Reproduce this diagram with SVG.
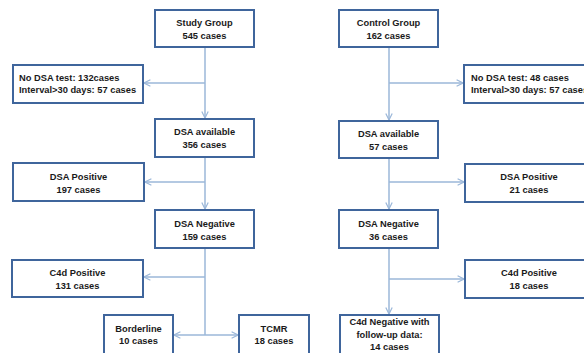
<svg xmlns="http://www.w3.org/2000/svg" width="584" height="353" viewBox="0 0 584 353">
<style>
.box{fill:#ffffff;stroke:#3f659c;stroke-width:2}
.t{font-family:"Liberation Sans",Arial,sans-serif;font-weight:bold;font-size:9.3px;fill:#1a1a1a;text-anchor:middle}
.l{text-anchor:start}
.c{fill:none;stroke:#9bb7d9;stroke-width:1.5}
</style>
<defs>
<marker id="ah" viewBox="0 0 10 10" refX="9" refY="5" markerWidth="8" markerHeight="8" markerUnits="userSpaceOnUse" orient="auto">
<path d="M1,1 L9,5 L1,9" fill="none" stroke="#9bb7d9" stroke-width="1.5"/>
</marker>
</defs>
<rect width="584" height="353" fill="#ffffff"/>
<g id="connectors">
<path class="c" d="M205,47 V118" marker-end="url(#ah)"/>
<path class="c" d="M205,83 H144" marker-end="url(#ah)"/>
<path class="c" d="M205,157 V209" marker-end="url(#ah)"/>
<path class="c" d="M205,182 H145" marker-end="url(#ah)"/>
<path class="c" d="M205,248 V335"/>
<path class="c" d="M205,277 H144" marker-end="url(#ah)"/>
<path class="c" d="M205,335 H174" marker-end="url(#ah)"/>
<path class="c" d="M205,335 H238" marker-end="url(#ah)"/>
<path class="c" d="M389,47 V120" marker-end="url(#ah)"/>
<path class="c" d="M389,83 H463" marker-end="url(#ah)"/>
<path class="c" d="M389,158 V209" marker-end="url(#ah)"/>
<path class="c" d="M389,182 H464" marker-end="url(#ah)"/>
<path class="c" d="M389,248 V314" marker-end="url(#ah)"/>
<path class="c" d="M389,279 H464" marker-end="url(#ah)"/>
</g>
<g id="study-group"><rect class="box" x="155" y="10" width="99" height="37"/><text class="t" x="204.5" y="26">Study Group</text><text class="t" x="204.5" y="38.5">545 cases</text></g>
<g id="no-dsa-left"><rect class="box" x="13" y="65" width="130" height="38"/><text class="t l" x="19" y="80.5">No DSA test: 132cases</text><text class="t l" x="19" y="93">Interval&gt;30 days: 57 cases</text></g>
<g id="dsa-available-left"><rect class="box" x="155" y="119" width="99" height="38"/><text class="t" x="204.5" y="135">DSA available</text><text class="t" x="204.5" y="147.5">356 cases</text></g>
<g id="dsa-positive-left"><rect class="box" x="13" y="163" width="131" height="38"/><text class="t" x="78.5" y="179.5">DSA Positive</text><text class="t" x="78.5" y="192.5">197 cases</text></g>
<g id="dsa-negative-left"><rect class="box" x="155" y="210" width="99" height="38"/><text class="t" x="204.5" y="226.5">DSA Negative</text><text class="t" x="204.5" y="239.5">159 cases</text></g>
<g id="c4d-positive-left"><rect class="box" x="12" y="260" width="131" height="37"/><text class="t" x="77.5" y="275.5">C4d Positive</text><text class="t" x="77.5" y="288.5">131 cases</text></g>
<g id="borderline"><rect class="box" x="104" y="315" width="69" height="42"/><text class="t" x="138.5" y="331.5">Borderline</text><text class="t" x="138.5" y="344">10 cases</text></g>
<g id="tcmr"><rect class="box" x="239" y="315" width="70" height="42"/><text class="t" x="274" y="331.5">TCMR</text><text class="t" x="274" y="344">18 cases</text></g>
<g id="control-group"><rect class="box" x="339" y="10" width="99" height="37"/><text class="t" x="388.5" y="26">Control Group</text><text class="t" x="388.5" y="38.5">162 cases</text></g>
<g id="no-dsa-right"><rect class="box" x="464" y="65" width="131" height="38"/><text class="t l" x="471" y="80.5">No DSA test: 48 cases</text><text class="t l" x="471" y="93">Interval&gt;30 days: 57 cases</text></g>
<g id="dsa-available-right"><rect class="box" x="339" y="121" width="99" height="37"/><text class="t" x="388.5" y="137">DSA available</text><text class="t" x="388.5" y="150">57 cases</text></g>
<g id="dsa-positive-right"><rect class="box" x="465" y="164" width="129" height="38"/><text class="t" x="529" y="179.5">DSA Positive</text><text class="t" x="529" y="192.5">21 cases</text></g>
<g id="dsa-negative-right"><rect class="box" x="339" y="210" width="99" height="38"/><text class="t" x="388.5" y="226.5">DSA Negative</text><text class="t" x="388.5" y="239.5">36 cases</text></g>
<g id="c4d-positive-right"><rect class="box" x="465" y="260" width="129" height="38"/><text class="t" x="529" y="275.5">C4d Positive</text><text class="t" x="529" y="288.5">18 cases</text></g>
<g id="c4d-negative-right"><rect class="box" x="340" y="315" width="99" height="42"/><text class="t" x="389.5" y="325">C4d Negative with</text><text class="t" x="389.5" y="337.5">follow-up data:</text><text class="t" x="389.5" y="350">14 cases</text></g>
</svg>
